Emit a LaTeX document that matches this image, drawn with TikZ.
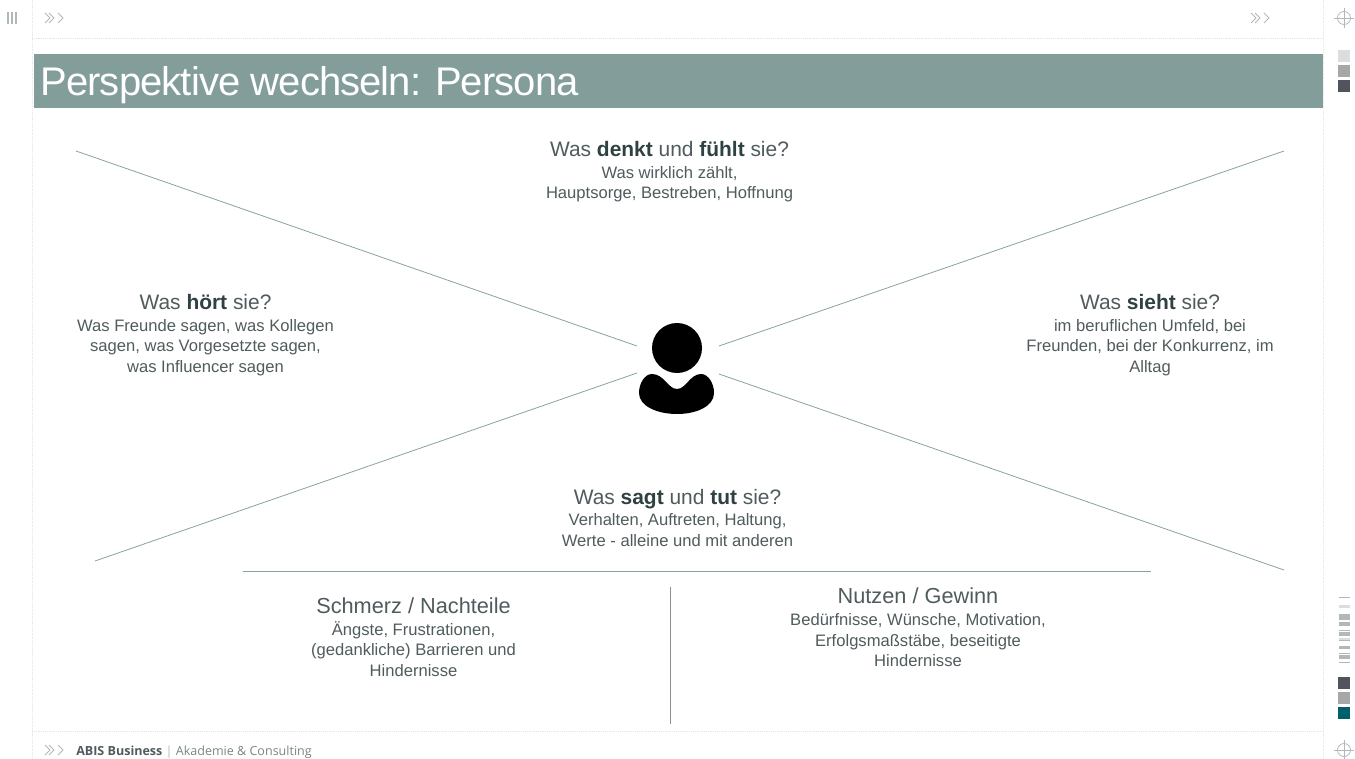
\documentclass[tikz,border=0pt]{standalone}
\usepackage{fontspec}
\setmainfont{Liberation Sans}
\newfontfamily\footfont{Open Sans}
\newfontfamily\titlefont[LetterSpace=-2.2]{Liberation Sans}
\usetikzlibrary{positioning,calc}
\definecolor{barcol}{HTML}{829D9A}
\definecolor{linecol}{HTML}{86A3A0}
\definecolor{txtcol}{HTML}{4F5B5C}
\definecolor{boldcol}{HTML}{2F4142}
\definecolor{markcol}{HTML}{B0B8B9}
\definecolor{framecol}{HTML}{E4E6E6}
\definecolor{swlight}{HTML}{DCDDDE}
\definecolor{swmid}{HTML}{A6A8A8}
\definecolor{swdark}{HTML}{50545C}
\definecolor{swteal}{HTML}{005F6B}
\newcommand{\kw}[1]{{\color{boldcol}\textbf{#1}}}

\begin{document}
\begin{tikzpicture}[x=0.75pt,y=-0.75pt]
\tikzset{head/.style={text=txtcol,font=\fontsize{15.7pt}{18pt}\selectfont,inner sep=0pt,anchor=base},
   headlow/.style={head,font=\fontsize{16.3pt}{18pt}\selectfont},
   sub/.style={text=txtcol,font=\fontsize{12.45pt}{15.4pt}\selectfont,align=center,inner sep=0pt,execute at begin node=\strut},
   ray/.style={draw=linecol,line width=0.6pt},
   framedot/.style={draw=framecol,line width=0.4pt,densely dotted},
   markline/.style={draw=markcol,line width=0.6pt},
   chev/.style={draw=markcol,line width=0.7pt}};
   \useasboundingbox (0,0) rectangle (1355,759);

   % frame
   \draw[framedot] (32,0) -- (32,759);
   \draw[framedot] (1323,0) -- (1323,759);
   \draw[framedot] (32,38) -- (1323,38);
   \draw[framedot] (32,731) -- (1323,731);

   \foreach \x in {8,12,16} \draw[draw=markcol,line width=0.9pt] (\x,12) -- (\x,24);

   % chevrons
   \foreach \cx/\cy in {45/18,1251/18,45/750} {
      \draw[chev] (\cx,\cy-5) -- ++(5,5) -- ++(-5,5);
      \draw[chev] (\cx+4,\cy-5) -- ++(5,5) -- ++(-5,5);
      \draw[chev] (\cx+13,\cy-5) -- ++(5,5) -- ++(-5,5);
   }

   % title
   \fill[barcol] (34,54) rectangle (1323,108);
   \node[anchor=base west,text=white,font=\titlefont\fontsize{30pt}{34pt}\selectfont,inner sep=0pt] (title) at (40,96) {Perspektive wechseln: Persona};

   % rays
   \coordinate (tl) at (76,151);   \coordinate (tlin) at (637,346);
   \coordinate (tr) at (1284,151); \coordinate (trin) at (719,346);
   \coordinate (bl) at (95,561);   \coordinate (blin) at (637,373);
   \coordinate (br) at (1284,570); \coordinate (brin) at (719,374);
   \draw[ray] (tl) -- (tlin);
   \draw[ray] (tr) -- (trin);
   \draw[ray] (bl) -- (blin);
   \draw[ray] (br) -- (brin);
   \coordinate (hl) at (243,571);  \coordinate (hr) at (1151,571);
   \draw[ray] (hl) -- (hr);
   \coordinate (vt) at (670,587);  \coordinate (vb) at (670,724);
   \draw[draw=swmid!85!black,line width=0.6pt] (vt) -- (vb);

   % person
   \fill[black] (677,348) circle (25);
   \fill[black] (677,389) .. controls (668,389) and (664,374) .. (652,374)
      .. controls (645,374) and (639,383) .. (639,393)
      .. controls (639,406) and (657,414) .. (677,414)
      .. controls (697,414) and (714,406) .. (714,393)
      .. controls (714,383) and (708,374) .. (701,374)
      .. controls (690,374) and (686,389) .. (677,389) -- cycle;

   % texts
   \node[head] (denkt) at (669.5,156.3) {Was \kw{denkt} und \kw{fühlt} sie?};
   \node[sub] [below = 7.4pt of denkt.base] (denktsub) {Was wirklich zählt,\\Hauptsorge, Bestreben, Hoffnung};

   \node[head] (hoert) at (205.5,309.3) {Was \kw{hört} sie?};
   \node[sub] [below = 7.4pt of hoert.base] (hoertsub) {Was Freunde sagen, was Kollegen\\sagen, was Vorgesetzte sagen,\\was Influencer sagen};

   \node[head] (sieht) at (1150,309.3) {Was \kw{sieht} sie?};
   \node[sub] [below = 7.4pt of sieht.base] (siehtsub) {im beruflichen Umfeld, bei\\Freunden, bei der Konkurrenz, im\\Alltag};

   \node[head] (sagt) at (677.5,504.3) {Was \kw{sagt} und \kw{tut} sie?};
   \node[sub] [below = 6.7pt of sagt.base] (sagtsub) {Verhalten, Auftreten, Haltung,\\Werte - alleine und mit anderen};

   \node[headlow] (schmerz) at (413.5,613.3) {Schmerz / Nachteile};
   \node[sub] [below = 5.9pt of schmerz.base] (schmerzsub) {Ängste, Frustrationen,\\(gedankliche) Barrieren und\\Hindernisse};

   \node[headlow] (nutzen) at (918,603.3) {Nutzen / Gewinn};
   \node[sub] [below = 7.4pt of nutzen.base] (nutzensub) {Bedürfnisse, Wünsche, Motivation,\\Erfolgsmaßstäbe, beseitigte\\Hindernisse};

   % footer
   \node[anchor=base west,inner sep=0pt,text=txtcol,font=\footfont\fontsize{9.4pt}{12pt}\selectfont] (foot) at (76,755) {\textbf{ABIS Business} \textcolor{markcol}{|} \textcolor{txtcol!75}{Akademie \& Consulting}};

   % printer marks
   \foreach \cy in {18,750} {
      \draw[markline] (1344,\cy) circle (6.5);
      \draw[markline] (1334,\cy) -- (1354,\cy);
      \draw[markline] (1344,\cy-10) -- (1344,\cy+10);
   }
   \foreach \sy/\sc in {50/swlight,65/swmid,80/swdark,677/swdark,692/swmid,707/swteal}
      \fill[\sc] (1338,\sy) rectangle ++(12,12);
   \foreach \ya/\yb/\sc in {597/597.7/markcol,605/608/swlight,614/620/markcol,622/626/markcol,630/630.8/markcol,632/636/markcol,638/640/swlight,640.3/641/markcol,646/649/markcol,653/653.8/markcol,655/659/markcol,662/662.8/markcol}
      \fill[\sc] (1339,\ya) rectangle (1350,\yb);

\end{tikzpicture}
\end{document}
